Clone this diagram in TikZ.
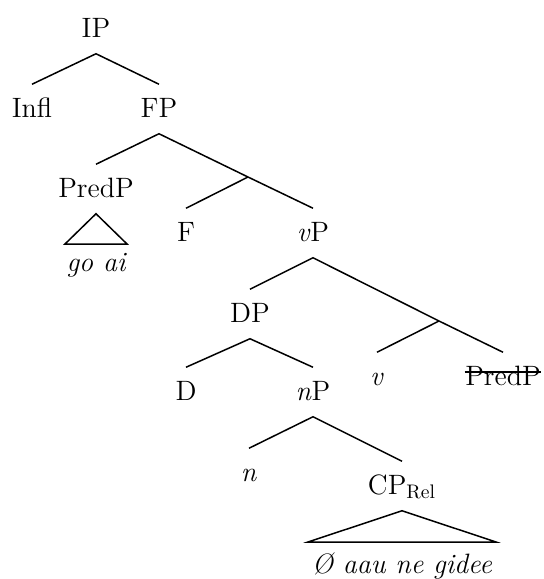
\documentclass[tikz,border=0pt]{standalone}
\begin{document}
\begin{tikzpicture}[x=0.5pt, y=-0.5pt, line width=0.75pt,
    cat/.style={anchor=base, inner xsep=0pt, inner ysep=8pt, text height=8pt, text depth=0pt, font=\fontsize{14}{17}\selectfont},
    yield/.style={anchor=base, inner sep=0pt, font=\fontsize{14}{17}\selectfont\itshape}]

\useasboundingbox (0,0) rectangle (544,579);

\node[cat] (ip) at (96,37) {IP};
\node[cat] (infl) at (32,117) {Infl};
\node[cat] (fp) at (159,117) {FP};
\node[cat] (predl) at (96,197) {PredP};
\node[yield] (goai) at (96,271) {go ai};
\node[cat] (f) at (186,241) {F};
\node[cat] (vp) at (313,241) {\textit{v}P};
\node[cat] (dp) at (250,322) {DP};
\node[cat] (v) at (377,385) {\textit{v}};
\node[cat] (predr) at (503,385) {PredP};
\node[cat] (d) at (186,400) {D};
\node[cat] (np) at (313,400) {\textit{n}P};
\node[cat] (n) at (249,481) {\textit{n}};
\node[cat] (cp) at (402,494) {CP\textsubscript{Rel}};
\node[yield] (rel) at (402,573) {\O{} aau ne gidee};

\coordinate (fpbar) at (248,177);
\coordinate (vpbar) at (439,321);
\coordinate (goail) at (65,244);
\coordinate (goair) at (127,244);
\coordinate (rell) at (308,542);
\coordinate (relr) at (496,542);

\draw (infl.north) -- (ip.south) -- (fp.north);
\draw (predl.north) -- (fp.south) -- (fpbar) -- (vp.north);
\draw (fpbar) -- (f.north);
\draw (dp.north) -- (vp.south) -- (vpbar) -- (predr.north);
\draw (vpbar) -- (v.north);
\draw (d.north) -- (dp.south) -- (np.north);
\draw (n.north) -- (np.south) -- (cp.north);
\draw (predl.south) -- (goail) -- (goair) -- cycle;
\draw (cp.south) -- (rell) -- (relr) -- cycle;
\draw[line width=0.6pt] ([yshift=6.5pt]predr.base west) -- ([yshift=6.5pt]predr.base east);

\end{tikzpicture}
\end{document}
